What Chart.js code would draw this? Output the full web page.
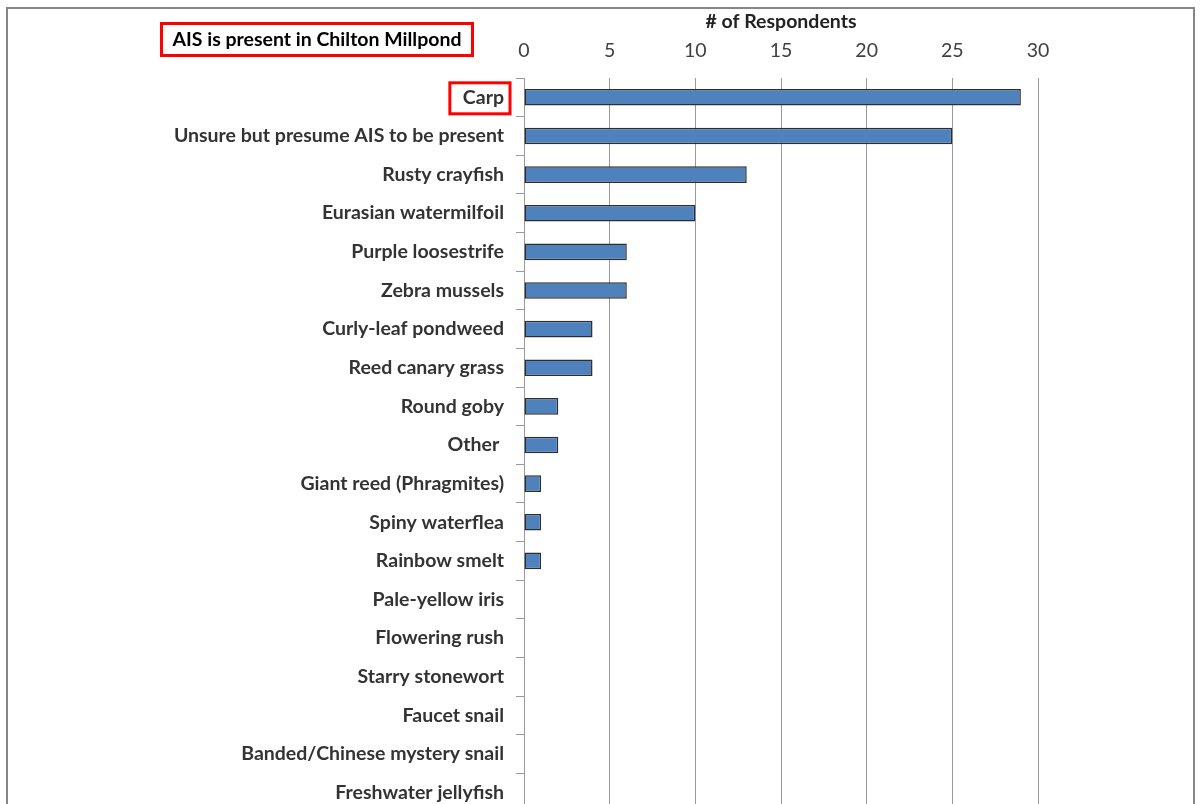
<!DOCTYPE html>
<html>
<head>
<meta charset="utf-8">
<script src="https://cdn.jsdelivr.net/npm/chart.js@4/dist/chart.umd.min.js"></script>
<style>
  html, body { margin: 0; padding: 0; background: #fff; overflow: hidden; }
  #wrap { width: 1200px; height: 840px; }
</style>
</head>
<body>
<div id="wrap"><canvas id="chart" width="1200" height="840"></canvas></div>
<script>
const species = [
  "Carp",
  "Unsure but presume AIS to be present",
  "Rusty crayfish",
  "Eurasian watermilfoil",
  "Purple loosestrife",
  "Zebra mussels",
  "Curly-leaf pondweed",
  "Reed canary grass",
  "Round goby",
  "Other ",
  "Giant reed (Phragmites)",
  "Spiny waterflea",
  "Rainbow smelt",
  "Pale-yellow iris",
  "Flowering rush",
  "Starry stonewort",
  "Faucet snail",
  "Banded/Chinese mystery snail",
  "Freshwater jellyfish",
];
const respondents = [29, 25, 13, 10, 6, 6, 4, 4, 2, 2, 1, 1, 1, 0, 0, 0, 0, 0, 0];
const xTicks = [0, 5, 10, 15, 20, 25, 30];

const chartTitle = "AIS is present in Chilton Millpond";
const axisTitle = "# of Respondents";
const highlighted = "Carp";

const labelFont = "Lato, 'Open Sans', sans-serif";
const fontSize = 19.5;

// frame around the whole chart plus the two red callout boxes
const decorations = {
  id: "decorations",
  afterDraw(chart) {
    const ctx = chart.ctx;
    ctx.save();
    ctx.strokeStyle = "#868686";
    ctx.lineWidth = 2;
    ctx.strokeRect(7, 8, 1187, 900);

    // title box
    ctx.font = "bold " + fontSize + "px " + labelFont;
    ctx.fillStyle = "#000";
    ctx.textAlign = "center";
    ctx.textBaseline = "middle";
    ctx.fillText(chartTitle, 317, 40);
    ctx.strokeStyle = "#ff0000";
    ctx.lineWidth = 3;
    ctx.strokeRect(161.5, 23.5, 311, 32);

    // box around the highlighted category label
    const yScale = chart.scales.y;
    const idx = species.indexOf(highlighted);
    const cy = yScale.getPixelForValue(idx);
    const w = ctx.measureText(highlighted).width;
    const textRight = yScale.right - 20;
    ctx.strokeRect(textRight - w - 13, cy - 14.5, w + 19, 31);
    ctx.restore();
  },
};

new Chart(document.getElementById("chart"), {
  type: "bar",
  data: {
    labels: species,
    datasets: [
      {
        label: axisTitle,
        data: respondents,
        backgroundColor: "#4f81bd",
        borderColor: "#2e2e2e",
        borderWidth: 1.5,
        borderSkipped: false,
        barPercentage: 0.43,
        categoryPercentage: 1,
      },
    ],
  },
  options: {
    indexAxis: "y",
    responsive: false,
    animation: false,
    layout: { padding: { left: 0, right: 162, top: 0, bottom: 28 } },
    plugins: {
      legend: { display: false },
      tooltip: { enabled: false },
    },
    scales: {
      x: {
        position: "top",
        min: 0,
        max: 30,
        afterBuildTicks: (scale) => {
          scale.ticks = xTicks.map((v) => ({ value: v }));
        },
        afterFit: (scale) => {
          scale.height = 78;
        },
        grid: {
          color: "#9a9a9a",
          lineWidth: 1,
          drawTicks: false,
        },
        border: { display: false },
        ticks: {
          color: "#404040",
          font: { family: labelFont, size: fontSize },
          padding: 16,
        },
        title: {
          display: true,
          text: axisTitle,
          color: "#222",
          font: { family: labelFont, size: fontSize, weight: "bold" },
          padding: { top: 10, bottom: 0 },
        },
      },
      y: {
        afterFit: (scale) => {
          scale.width = 524;
        },
        grid: {
          offset: true,
          drawOnChartArea: false,
          color: "#9a9a9a",
          tickLength: 8,
        },
        border: { display: true, color: "#9a9a9a", width: 1 },
        ticks: {
          color: "#333",
          font: { family: labelFont, size: fontSize, weight: "bold" },
          padding: 12,
          autoSkip: false,
        },
      },
    },
  },
  plugins: [decorations],
});
</script>
</body>
</html>
